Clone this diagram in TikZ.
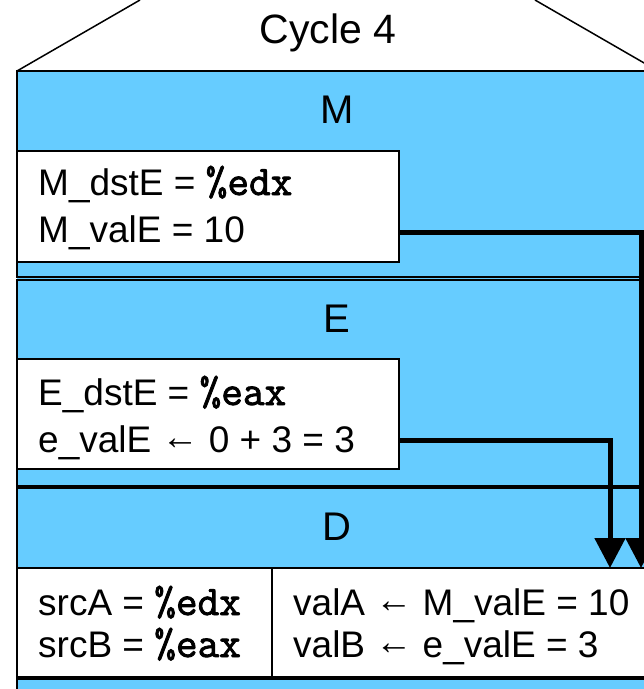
\documentclass[tikz,border=0pt]{standalone}
\usepackage{fontspec}
\setmainfont{Liberation Sans}
\newfontfamily\courfont{Latin Modern Mono}[FakeBold=2]
\usetikzlibrary{arrows.meta}
\definecolor{bandblue}{RGB}{102,204,255}
\newcommand{\regname}[1]{{\fontsize{42}{44}\selectfont\courfont\%#1}}
\newcommand{\larr}{\raisebox{3pt}{←}}
\begin{document}
\begin{tikzpicture}[x=1pt,y=-1pt,
  band/.style={draw=black, line width=1.5pt, fill=bandblue},
  wbox/.style={draw=black, line width=1.8pt, fill=white, anchor=north west, inner sep=0pt, outer sep=0pt},
  txt/.style={anchor=base west, inner sep=0pt, font=\fontsize{37}{44}\selectfont},
  lab/.style={anchor=base, inner sep=0pt, font=\fontsize{40}{48}\selectfont},
  flow/.style={line width=5pt, -{Triangle[width=30pt,length=30pt]}}]
\useasboundingbox (0,0) rectangle (644,689);
\clip (0,0) rectangle (644,689);
\fill[white] (0,0) rectangle (644,689);
% roof
\draw[line width=1.5pt] (17,71) -- (140,0);
\draw[line width=1.5pt] (535,0) -- (658,71);
\node[anchor=base, inner sep=0pt, font=\fontsize{41}{49}\selectfont] (title) at (328,43) {Cycle 4};
% background and bands
\fill[bandblue] (17,71) rectangle (660,700);
\draw[band] (17,71) rectangle (660,277);
\draw[band] (17,280) rectangle (660,486);
\draw[band] (17,488) rectangle (660,677);
\draw[band] (17,679) rectangle (660,720);
\node[lab] (mlab) at (337,123) {M};
\node[lab] (elab) at (337,332) {E};
\node[lab] (dlab) at (337,540) {D};
% M box
\node[wbox, minimum width=382pt, minimum height=111pt] (mbox) at (17,151) {};
\node[txt] (mdst) at (38,195) {M\_dstE = \regname{edx}};
\node[txt] (mval) at (38,242) {M\_valE = 10};
% E box
\node[wbox, minimum width=382pt, minimum height=110pt] (ebox) at (17,359) {};
\node[txt] (edst) at (38,405) {E\_dstE = \regname{eax}};
\node[txt] (eval) at (38,452) {e\_valE \larr{} 0 + 3 = 3};
% D boxes
\node[wbox, minimum width=255pt, minimum height=109pt] (dlbox) at (17,568) {};
\node[wbox, minimum width=390pt, minimum height=109pt] (drbox) at (272,568) {};
\node[txt] (srca) at (38,615) {srcA = \regname{edx}};
\node[txt] (srcb) at (38,657) {srcB = \regname{eax}};
\node[txt] (vala) at (293,615) {valA \larr{} M\_valE = 10};
\node[txt] (valb) at (293,657) {valB \larr{} e\_valE = 3};
% connectors
\coordinate (mturn) at (641,232);
\coordinate (eturn) at (610,440);
\draw[flow] (mbox.east |- mturn) -- (mturn) -- (drbox.north -| mturn);
\draw[flow] (ebox.east |- eturn) -- (eturn) -- (drbox.north -| eturn);
\end{tikzpicture}
\end{document}
